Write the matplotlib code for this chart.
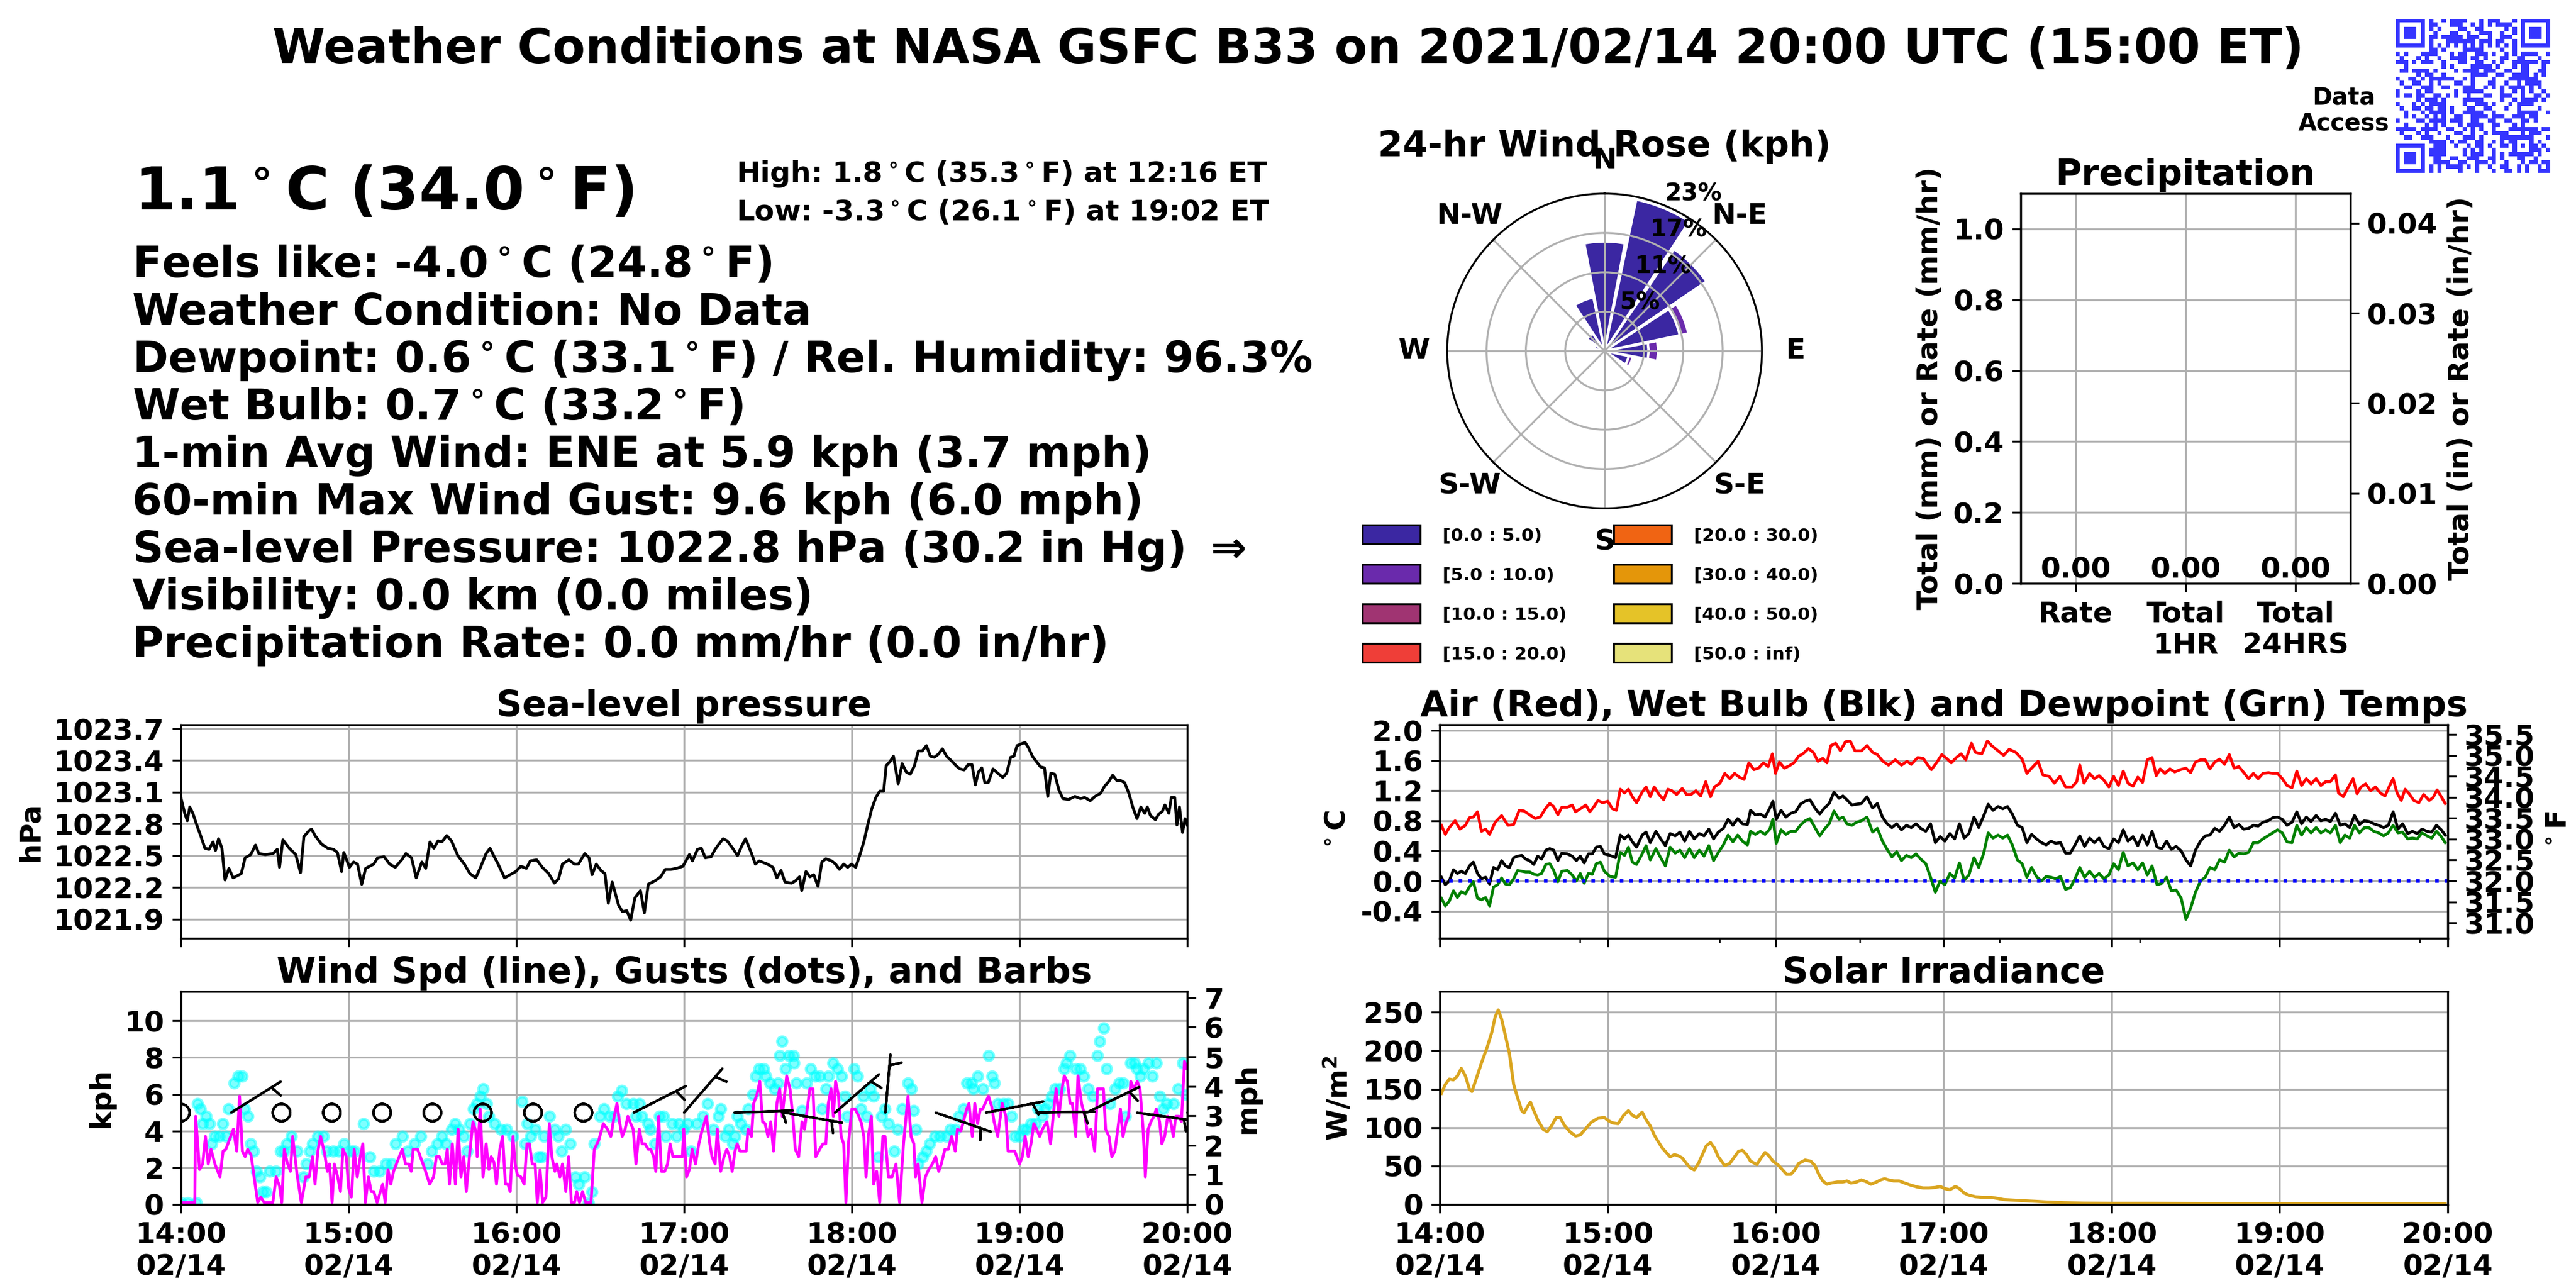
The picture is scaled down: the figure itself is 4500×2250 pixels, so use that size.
import datetime as dt
import numpy as np
import matplotlib
matplotlib.use("Agg")
import matplotlib.pyplot as plt
import matplotlib.dates as mdates
from matplotlib.colors import ListedColormap
from matplotlib.patches import Patch
from matplotlib.ticker import FormatStrFormatter

plt.rcParams['font.family'] = ['DejaVu Sans']
plt.rcParams['font.weight'] = 'bold'
plt.rcParams['axes.labelweight'] = 'bold'
plt.rcParams['axes.titleweight'] = 'bold'
plt.rcParams['mathtext.default'] = 'regular'

# ---------------- data (minutes after 14:00 UTC, value) ----------------
press = [(0, 1023.05), (1.4, 1022.90), (2.3, 1022.83), (3.2, 1022.96), (4.3, 1022.90), (5.7, 1022.79),
         (7.2, 1022.68), (8.6, 1022.57), (10.1, 1022.56), (11.5, 1022.63), (12.4, 1022.55), (13.5, 1022.66),
         (14.7, 1022.57), (15.8, 1022.27), (17.2, 1022.38), (18.7, 1022.29), (21.6, 1022.33), (23.0, 1022.48),
         (25.0, 1022.51), (26.7, 1022.60), (27.9, 1022.52), (30.2, 1022.51), (33.0, 1022.52), (34.5, 1022.56),
         (35.3, 1022.39), (36.5, 1022.65), (38.8, 1022.57), (41.1, 1022.51), (42.8, 1022.34), (44.0, 1022.68),
         (46.0, 1022.74), (46.8, 1022.75), (48.0, 1022.69), (50.3, 1022.61), (52.6, 1022.57), (54.6, 1022.56),
         (56.0, 1022.53), (57.5, 1022.35), (58.3, 1022.53), (60.3, 1022.39), (61.8, 1022.44), (63.2, 1022.42),
         (64.7, 1022.23), (66.1, 1022.38), (69.0, 1022.42), (70.4, 1022.48), (72.7, 1022.49), (74.7, 1022.42),
         (76.7, 1022.39), (79.0, 1022.46), (80.5, 1022.52), (82.5, 1022.48), (84.2, 1022.29), (86.2, 1022.44),
         (87.6, 1022.38), (89.1, 1022.63), (90.5, 1022.57), (92.0, 1022.64), (93.4, 1022.63), (95.1, 1022.69),
         (96.8, 1022.64), (99.1, 1022.50), (101.4, 1022.42), (103.4, 1022.33), (105.5, 1022.29), (107.2, 1022.39),
         (109.2, 1022.52), (110.6, 1022.57), (112.1, 1022.49), (113.5, 1022.42), (115.8, 1022.29), (117.8, 1022.32),
         (119.8, 1022.35), (121.6, 1022.40), (123.6, 1022.38), (125.0, 1022.45), (127.3, 1022.46), (129.3, 1022.39),
         (131.6, 1022.33), (133.6, 1022.24), (135.1, 1022.28), (136.5, 1022.42), (138.8, 1022.46), (140.8, 1022.42),
         (142.2, 1022.42), (144.5, 1022.52), (146.0, 1022.48), (147.1, 1022.32), (148.6, 1022.42), (150.3, 1022.36),
         (151.7, 1022.33), (152.9, 1022.05), (154.3, 1022.25), (156.6, 1022.03), (158.0, 1021.97), (159.5, 1021.98),
         (160.9, 1021.89), (162.4, 1022.10), (164.4, 1022.17), (165.8, 1021.96), (167.2, 1022.23), (169.5, 1022.26),
         (171.6, 1022.30), (173.3, 1022.37), (175.3, 1022.37), (177.3, 1022.38), (179.6, 1022.40), (181.9, 1022.51),
         (183.0, 1022.45), (184.8, 1022.56), (186.2, 1022.57), (187.6, 1022.48), (189.7, 1022.49), (191.1, 1022.56),
         (192.5, 1022.61), (194.0, 1022.66), (195.4, 1022.64), (197.4, 1022.57), (199.1, 1022.50), (200.6, 1022.59),
         (202.0, 1022.66), (204.0, 1022.53), (205.5, 1022.42), (206.9, 1022.45), (209.8, 1022.42), (211.8, 1022.39),
         (213.2, 1022.29), (214.7, 1022.36), (216.1, 1022.25), (218.4, 1022.24), (219.8, 1022.26), (221.3, 1022.30),
         (222.1, 1022.17), (223.6, 1022.35), (225.0, 1022.30), (226.4, 1022.32), (227.9, 1022.21), (229.3, 1022.44),
         (230.7, 1022.47), (232.8, 1022.45), (234.2, 1022.42), (235.6, 1022.37), (237.1, 1022.42), (238.5, 1022.39),
         (239.9, 1022.42), (241.4, 1022.39), (242.8, 1022.50), (244.3, 1022.63), (245.7, 1022.79), (247.1, 1022.94),
         (248.6, 1023.05), (250.0, 1023.11), (251.4, 1023.11), (252.3, 1023.35), (253.7, 1023.39), (254.9, 1023.44),
         (256.6, 1023.18), (258.0, 1023.37), (259.5, 1023.29), (260.9, 1023.27), (262.4, 1023.35), (263.8, 1023.49),
         (265.2, 1023.49), (266.7, 1023.54), (268.1, 1023.44), (269.5, 1023.43), (271.0, 1023.46), (272.4, 1023.51),
         (273.9, 1023.44), (275.9, 1023.39), (277.3, 1023.35), (278.7, 1023.32), (280.2, 1023.31), (281.6, 1023.36),
         (283.0, 1023.36), (284.2, 1023.17), (285.3, 1023.29), (286.5, 1023.33), (287.6, 1023.19), (288.8, 1023.19),
         (290.5, 1023.32), (292.2, 1023.28), (294.0, 1023.24), (295.4, 1023.28), (296.8, 1023.43), (298.0, 1023.44),
         (299.1, 1023.54), (300.9, 1023.56), (302.0, 1023.57), (303.2, 1023.52), (304.6, 1023.44), (306.0, 1023.39),
         (307.5, 1023.34), (308.9, 1023.33), (310.1, 1023.06), (311.2, 1023.28), (312.6, 1023.27), (314.1, 1023.12),
         (315.5, 1023.04), (317.5, 1023.03), (319.8, 1023.06), (321.8, 1023.04), (323.3, 1023.05), (325.3, 1023.02),
         (327.0, 1023.06), (329.0, 1023.09), (330.5, 1023.16), (331.9, 1023.20), (333.3, 1023.26), (334.8, 1023.21),
         (336.2, 1023.21), (337.6, 1023.19), (339.1, 1023.09), (340.5, 1022.96), (342.0, 1022.85), (343.4, 1022.96),
         (344.8, 1022.90), (345.7, 1022.96), (346.8, 1022.88), (348.6, 1022.84), (349.7, 1022.89), (351.1, 1022.92),
         (352.0, 1022.98), (353.4, 1022.90), (354.3, 1023.05), (355.5, 1023.05), (356.3, 1022.79), (357.2, 1022.96),
         (358.3, 1022.72), (359.2, 1022.85), (360.0, 1022.79)]

wind_kph = [(0, 0.1), (5.0, 0.1), (5.3, 4.8), (6.7, 1.9), (7.8, 2.2), (8.8, 3.7), (9.8, 2.2), (10.8, 3.0),
            (12.2, 2.2), (14.0, 1.5), (15.1, 2.9), (16.1, 3.0), (18.8, 4.1), (20.0, 2.9), (21.0, 5.9), (22.0, 2.9),
            (23.0, 2.6), (23.9, 3.0), (25.1, 2.7), (26.3, 1.4), (27.5, 0.1), (28.6, 0.4), (29.8, 0.1), (32.9, 0.1),
            (34.1, 1.5), (35.3, 1.0), (36.1, 0.1), (37.0, 3.0), (38.0, 2.3), (39.2, 1.8), (40.0, 3.7), (41.6, 1.6),
            (43.1, 0.1), (44.7, 1.5), (45.9, 1.5), (47.1, 2.6), (48.0, 1.1), (49.0, 2.9), (50.0, 3.7), (51.4, 2.8),
            (52.4, 1.8), (53.2, 2.2), (54.1, 0.1), (54.9, 2.2), (56.1, 1.5), (57.1, 0.7), (58.0, 3.0), (59.2, 2.6),
            (60.0, 0.9), (61.0, 0.4), (62.0, 3.0), (63.1, 1.5), (64.2, 2.6), (65.1, 3.3), (66.0, 0.1), (67.1, 1.5),
            (68.1, 0.7), (69.0, 0.7), (70.2, 0.1), (72.2, 1.1), (73.1, 0.1), (74.1, 1.9), (75.1, 1.1), (76.1, 1.8),
            (77.6, 2.4), (79.2, 3.0), (80.4, 2.2), (81.6, 2.2), (82.4, 1.8), (83.1, 3.0), (84.7, 3.0), (87.1, 2.0),
            (89.0, 1.1), (90.4, 1.5), (91.4, 2.6), (92.5, 2.6), (93.5, 2.2), (94.5, 2.2), (95.3, 3.0), (96.1, 1.1),
            (97.1, 3.3), (98.2, 1.1), (99.2, 4.1), (100.2, 1.5), (101.2, 2.6), (102.1, 0.7), (103.4, 2.9), (104.5, 4.5),
            (105.5, 4.0), (106.0, 2.6), (107.1, 5.2), (108.1, 1.5), (109.2, 3.3), (110.2, 1.9), (111.0, 2.6),
            (112.0, 2.3), (112.9, 1.1), (114.1, 3.0), (115.1, 3.7), (116.1, 1.1), (117.0, 1.1), (117.8, 0.7),
            (118.8, 3.7), (119.6, 2.2), (120.4, 1.6), (121.6, 1.5), (122.8, 1.1), (123.8, 3.3), (124.7, 3.3),
            (125.7, 2.2), (126.7, 2.2), (127.5, 0.1), (128.5, 1.9), (129.4, 0.1), (130.6, 0.4), (131.8, 4.4),
            (132.7, 2.6), (133.8, 1.8), (134.5, 2.2), (135.6, 1.5), (136.5, 2.2), (137.7, 0.7), (138.7, 2.6),
            (139.7, 0.1), (140.8, 0.1), (141.6, 0.7), (142.6, 0.1), (143.7, 0.7), (144.8, 0.1), (146.7, 0.1),
            (147.9, 3.0), (149.5, 3.5), (151.1, 4.4), (152.6, 4.1), (153.8, 3.7), (155.0, 4.8), (156.0, 5.5),
            (156.9, 4.5), (157.9, 3.7), (158.9, 4.1), (159.9, 4.8), (160.9, 4.4), (161.8, 4.1), (162.8, 2.2),
            (164.0, 4.1), (165.0, 3.3), (166.0, 3.3), (167.2, 3.0), (168.1, 3.0), (169.1, 2.6), (169.9, 1.8),
            (170.9, 4.8), (171.9, 1.8), (173.1, 1.8), (174.1, 2.2), (175.0, 3.3), (176.0, 2.6), (178.2, 2.6),
            (179.4, 2.6), (179.9, 4.1), (180.9, 1.5), (181.9, 1.9), (182.9, 3.0), (184.1, 2.2), (185.3, 3.3),
            (186.4, 4.0), (188.0, 4.8), (189.2, 3.3), (190.0, 2.6), (191.1, 2.2), (191.9, 4.1), (193.1, 1.8),
            (194.3, 2.6), (195.3, 3.0), (196.3, 2.6), (197.2, 1.8), (198.2, 2.9), (199.0, 3.3), (200.0, 2.9),
            (202.2, 2.9), (202.9, 4.1), (204.1, 3.7), (204.9, 5.5), (206.1, 6.0), (207.1, 6.7), (208.1, 4.5),
            (209.0, 4.4), (210.0, 3.7), (211.0, 4.5), (212.0, 2.9), (213.2, 5.5), (214.2, 6.3), (215.1, 4.8),
            (216.7, 7.0), (217.9, 6.3), (218.9, 4.8), (219.8, 3.0), (221.0, 2.6), (222.2, 4.5), (223.1, 4.1),
            (225.0, 6.3), (226.1, 6.3), (227.1, 2.6), (228.5, 3.0), (229.7, 3.3), (230.7, 3.3), (231.6, 5.5),
            (232.6, 6.3), (233.4, 4.8), (234.2, 6.7), (235.2, 6.0), (236.2, 3.7), (237.1, 3.3), (237.9, 0.1),
            (238.8, 3.3), (240.0, 5.2), (241.2, 5.2), (242.5, 4.8), (243.5, 4.4), (244.3, 3.7), (245.1, 1.5),
            (245.9, 3.7), (247.0, 4.8), (247.8, 1.1), (248.9, 1.8), (250.0, 0.1), (251.1, 3.7), (251.9, 3.7),
            (253.1, 1.5), (254.4, 1.5), (255.8, 2.2), (257.1, 0.1), (258.5, 3.3), (260.1, 5.9), (261.2, 3.7),
            (262.2, 3.3), (262.8, 1.5), (263.7, 2.2), (265.1, 0.1), (266.3, 1.5), (267.5, 1.9), (268.8, 2.2),
            (270.0, 2.6), (271.1, 1.8), (272.0, 2.2), (273.3, 3.0), (274.5, 3.0), (275.7, 3.7), (277.0, 2.9),
            (277.8, 4.1), (279.0, 4.0), (279.9, 4.5), (281.1, 5.2), (281.9, 5.5), (283.1, 3.7), (284.0, 5.5),
            (285.0, 4.4), (286.0, 5.2), (286.8, 5.2), (288.9, 5.9), (290.1, 5.3), (290.9, 4.5), (292.2, 3.7),
            (293.8, 5.5), (295.1, 4.8), (295.9, 2.9), (298.3, 2.9), (300.0, 2.2), (301.0, 2.6), (302.0, 3.7),
            (303.1, 2.6), (304.1, 3.3), (305.1, 4.4), (306.1, 4.1), (307.2, 3.7), (308.2, 4.1), (309.8, 4.5),
            (311.1, 3.3), (312.3, 5.2), (313.1, 6.3), (314.1, 4.8), (315.2, 6.3), (316.0, 7.0), (317.1, 6.7),
            (318.1, 5.5), (318.9, 5.5), (320.1, 3.7), (320.9, 7.0), (322.2, 5.5), (323.4, 4.8), (324.5, 3.7),
            (325.5, 4.1), (326.9, 2.9), (327.9, 6.3), (330.0, 6.3), (330.8, 4.1), (332.0, 3.7), (333.0, 2.6),
            (334.1, 2.9), (336.1, 5.2), (337.0, 3.7), (338.2, 4.5), (339.0, 4.8), (339.8, 6.7), (340.9, 6.3),
            (342.1, 6.7), (343.1, 6.3), (344.2, 4.1), (345.0, 1.5), (346.0, 4.1), (347.0, 4.5), (348.1, 4.8),
            (348.9, 5.2), (350.1, 4.5), (350.9, 3.3), (351.9, 3.7), (353.0, 4.8), (354.1, 4.5), (355.0, 3.7),
            (355.9, 4.8), (357.1, 4.8), (357.9, 4.5), (359.0, 7.8), (359.8, 7.4)]

gust_kph = [(0, 0.1), (2.5, 0.1), (5.5, 0.1), (5.9, 5.5), (6.9, 5.2), (7.8, 4.4), (9.0, 4.8), (10.2, 4.4),
            (11.1, 3.3), (12.2, 3.7), (13.7, 3.7), (14.9, 4.4), (16.1, 3.7), (17.1, 5.2), (19.1, 6.6), (20.4, 7.0),
            (22.0, 7.0), (22.7, 5.2), (23.9, 4.8), (25.1, 3.3), (26.1, 2.9), (27.1, 1.8), (28.2, 1.5), (29.2, 0.7),
            (30.6, 0.7), (31.8, 1.8), (34.1, 1.8), (35.7, 2.9), (36.9, 2.9), (38.0, 3.3), (39.6, 3.7), (41.6, 2.9),
            (43.8, 1.5), (44.9, 2.2), (46.1, 2.9), (47.2, 3.3), (49.0, 3.7), (51.0, 3.7), (52.2, 2.9), (54.5, 2.9),
            (56.5, 2.9), (58.4, 3.3), (60.8, 2.9), (62.0, 2.9), (65.3, 4.4), (67.5, 2.6), (69.0, 1.8), (71.0, 1.8),
            (73.3, 2.2), (75.3, 2.2), (76.9, 3.3), (79.2, 3.7), (81.2, 2.9), (83.5, 3.3), (85.9, 3.7), (88.2, 2.2),
            (89.8, 2.9), (91.8, 3.3), (93.3, 3.7), (94.9, 3.3), (96.9, 4.1), (98.0, 4.4), (99.6, 4.1), (101.2, 3.7),
            (102.4, 2.9), (103.4, 4.4), (104.7, 5.2), (105.9, 5.5), (107.1, 5.9), (108.1, 6.3), (109.4, 5.5),
            (110.2, 4.8), (112.2, 4.4), (114.5, 4.1), (116.5, 4.1), (118.8, 3.7), (122.0, 5.6), (123.1, 3.3),
            (123.9, 4.4), (125.1, 3.7), (126.7, 4.1), (127.9, 2.6), (129.0, 2.6), (129.8, 3.7), (131.8, 4.8),
            (133.8, 4.1), (134.9, 3.7), (136.1, 2.9), (137.7, 4.1), (139.3, 3.3), (141.2, 1.5), (142.4, 1.1),
            (144.4, 1.5), (145.9, 0.1), (147.1, 0.7), (147.9, 3.3), (149.9, 4.8), (151.4, 5.2), (153.4, 4.8),
            (155.0, 4.8), (156.2, 5.9), (157.7, 6.2), (159.3, 5.5), (161.7, 5.5), (162.8, 4.8), (164.0, 5.5),
            (164.8, 4.8), (167.2, 4.4), (168.0, 4.1), (169.5, 3.3), (171.1, 4.8), (172.7, 4.8), (173.5, 3.7),
            (175.8, 4.4), (177.4, 3.7), (178.2, 4.4), (179.7, 4.1), (181.3, 4.4), (182.5, 2.9), (184.5, 4.4),
            (186.8, 4.8), (188.4, 5.5), (190.4, 4.1), (192.3, 4.8), (193.1, 5.2), (194.7, 3.7), (195.9, 4.1),
            (197.4, 3.3), (198.2, 3.7), (199.0, 4.8), (200.2, 4.4), (202.2, 4.1), (202.9, 5.2), (204.5, 6.0),
            (205.7, 7.0), (206.9, 7.4), (208.4, 7.4), (209.2, 7.0), (210.8, 6.6), (212.4, 6.3), (213.6, 6.6),
            (214.3, 8.1), (215.1, 8.9), (216.3, 7.4), (217.5, 8.1), (219.1, 8.1), (219.4, 7.7), (220.2, 6.6),
            (222.2, 5.1), (223.8, 6.6), (225.3, 7.4), (226.9, 7.0), (228.5, 7.0), (229.3, 5.2), (230.8, 6.3),
            (231.6, 7.0), (233.2, 7.7), (234.8, 7.4), (236.4, 7.0), (237.5, 5.9), (238.4, 4.8), (240.8, 7.4),
            (242.1, 7.0), (243.3, 5.2), (244.1, 5.9), (245.3, 4.8), (246.6, 6.3), (247.8, 5.9), (249.4, 2.6),
            (250.7, 4.8), (251.9, 5.2), (253.1, 4.4), (255.2, 2.9), (256.4, 4.1), (258.1, 5.2), (260.1, 6.6),
            (261.2, 6.3), (262.2, 5.1), (263.0, 4.1), (263.8, 2.2), (265.3, 2.6), (266.7, 2.9), (267.9, 3.3),
            (269.6, 3.7), (271.6, 3.7), (273.7, 3.7), (275.3, 4.1), (277.0, 4.1), (278.2, 4.8), (279.9, 5.2),
            (281.1, 6.6), (282.7, 6.6), (283.5, 6.3), (285.0, 7.0), (286.8, 6.3), (288.9, 8.1), (290.1, 7.0),
            (290.9, 6.6), (292.2, 5.5), (294.2, 5.5), (295.9, 5.5), (297.1, 4.8), (298.3, 3.7), (300.0, 3.7),
            (301.2, 4.1), (302.4, 4.1), (304.1, 4.4), (305.7, 4.4), (306.6, 5.2), (308.2, 4.8), (309.0, 5.2),
            (310.3, 5.5), (311.5, 5.9), (312.7, 6.3), (314.4, 6.3), (316.0, 7.4), (316.8, 7.7), (318.1, 8.1),
            (320.1, 7.4), (321.8, 7.4), (323.0, 7.0), (324.6, 6.3), (326.3, 5.9), (327.9, 8.1), (328.7, 8.9),
            (330.0, 9.6), (331.2, 7.4), (332.4, 5.5), (334.1, 6.3), (335.7, 6.6), (337.0, 6.6), (337.8, 4.8),
            (339.8, 7.7), (341.1, 7.7), (341.9, 7.4), (343.1, 7.0), (344.4, 7.4), (346.0, 7.7), (347.6, 7.0),
            (348.9, 7.7), (350.1, 5.9), (351.3, 5.2), (352.6, 5.5), (355.0, 5.5), (356.7, 6.3), (358.3, 7.7),
            (359.6, 6.0)]

# barbs every 18 min: direction wind comes from (deg), speed (kph)
barb_min = [0, 18, 36, 54, 72, 90, 108, 126, 144, 162, 180, 198, 216, 234, 252, 270, 288, 306, 324, 342, 360]
barb_dir = [0, 58, 0, 0, 0, 0, 0, 0, 0, 63, 41, 88, 100, 49, 5, 109, 79, 89, 64, 98, 95]
barb_spd = [0, 5, 0, 0, 0, 0, 0, 0, 0, 5, 5, 5, 5, 5, 5, 5, 5, 5, 5, 5, 5]

air_c = [(0.6, 0.74), (2.0, 0.62), (3.4, 0.71), (5.5, 0.80), (7.2, 0.69), (9.2, 0.74), (10.6, 0.84), (12.0, 0.85),
         (13.5, 0.92), (14.9, 0.66), (16.4, 0.69), (17.8, 0.62), (19.8, 0.78), (22.1, 0.87), (24.4, 0.74),
         (26.4, 0.75), (28.4, 0.94), (30.1, 0.93), (32.1, 0.88), (34.1, 0.83), (35.9, 0.85), (37.9, 0.97),
         (39.3, 1.03), (40.7, 0.99), (42.2, 0.88), (43.6, 0.98), (45.6, 0.98), (47.3, 1.01), (48.5, 0.92),
         (50.2, 0.96), (52.2, 1.01), (53.6, 0.92), (55.1, 0.99), (56.5, 1.07), (58.2, 1.04), (60.0, 1.06),
         (61.7, 0.96), (63.1, 0.94), (64.5, 1.22), (66.0, 1.17), (67.4, 1.22), (68.8, 1.12), (70.3, 1.04),
         (72.3, 1.18), (73.7, 1.25), (75.2, 1.12), (76.6, 1.25), (78.3, 1.15), (80.0, 1.08), (81.5, 1.22),
         (82.9, 1.20), (84.6, 1.15), (86.6, 1.23), (88.1, 1.15), (89.8, 1.15), (91.5, 1.20), (93.2, 1.13),
         (95.0, 1.32), (96.7, 1.12), (98.1, 1.25), (100.1, 1.30), (101.8, 1.43), (103.6, 1.36), (105.3, 1.43),
         (107.0, 1.38), (108.7, 1.35), (110.4, 1.57), (112.2, 1.48), (113.9, 1.50), (115.6, 1.57), (117.3, 1.52),
         (118.8, 1.69), (119.9, 1.43), (121.3, 1.58), (123.1, 1.50), (124.8, 1.53), (126.5, 1.57), (128.2, 1.66),
         (129.7, 1.69), (131.7, 1.76), (133.4, 1.71), (135.1, 1.59), (136.8, 1.63), (138.3, 1.57), (139.7, 1.80),
         (141.4, 1.83), (143.1, 1.73), (144.9, 1.85), (146.6, 1.86), (148.3, 1.73), (150.6, 1.73), (152.6, 1.80),
         (154.6, 1.71), (156.3, 1.68), (158.3, 1.59), (160.3, 1.54), (162.7, 1.61), (164.9, 1.54), (166.9, 1.59),
         (168.4, 1.55), (170.7, 1.64), (172.7, 1.63), (174.1, 1.55), (175.6, 1.48), (177.6, 1.58), (179.3, 1.68),
         (181.0, 1.63), (182.7, 1.57), (184.5, 1.64), (186.2, 1.69), (187.9, 1.61), (189.9, 1.83), (191.3, 1.71),
         (193.6, 1.69), (195.6, 1.86), (197.1, 1.80), (199.4, 1.73), (201.4, 1.67), (203.4, 1.75), (205.7, 1.71),
         (208.0, 1.62), (209.7, 1.43), (211.4, 1.50), (213.7, 1.59), (215.4, 1.41), (217.7, 1.39), (219.5, 1.30),
         (221.5, 1.39), (223.5, 1.25), (225.8, 1.25), (227.5, 1.32), (228.6, 1.54), (230.1, 1.30), (232.1, 1.43),
         (233.8, 1.36), (235.5, 1.40), (237.2, 1.34), (239.0, 1.25), (240.7, 1.39), (242.4, 1.27), (244.1, 1.46),
         (245.8, 1.30), (247.6, 1.26), (249.3, 1.38), (251.0, 1.31), (252.7, 1.61), (254.4, 1.64), (255.9, 1.40),
         (257.3, 1.49), (259.0, 1.43), (260.8, 1.49), (262.5, 1.45), (264.5, 1.48), (266.5, 1.50), (268.2, 1.44),
         (269.9, 1.58), (271.7, 1.61), (273.4, 1.61), (275.1, 1.49), (276.8, 1.58), (278.5, 1.62), (280.3, 1.55),
         (282.0, 1.68), (283.7, 1.50), (285.4, 1.52), (287.4, 1.43), (288.9, 1.36), (290.6, 1.43), (292.3, 1.36),
         (294.0, 1.43), (296.0, 1.44), (297.5, 1.43), (299.2, 1.43), (300.9, 1.36), (302.6, 1.27), (304.4, 1.24),
         (306.1, 1.46), (307.8, 1.27), (309.5, 1.36), (311.2, 1.29), (313.0, 1.36), (314.7, 1.27), (316.4, 1.32),
         (318.1, 1.32), (319.9, 1.41), (321.0, 1.17), (322.7, 1.12), (324.4, 1.24), (326.2, 1.36), (327.6, 1.16),
         (329.0, 1.25), (330.7, 1.29), (332.5, 1.20), (334.2, 1.25), (335.9, 1.17), (337.6, 1.13), (339.3, 1.27),
         (340.5, 1.36), (341.9, 1.17), (343.4, 1.07), (344.8, 1.22), (346.2, 1.16), (347.9, 1.07), (349.7, 1.04),
         (351.4, 1.15), (353.4, 1.07), (354.8, 1.11), (356.2, 1.21), (357.7, 1.12), (359.1, 1.03)]

wetbulb_c = [(0.6, 0.05), (2.0, -0.05), (3.4, 0.00), (4.9, 0.15), (6.3, 0.10), (7.7, 0.13), (9.2, 0.10),
             (10.6, 0.20), (12.0, 0.25), (13.5, 0.10), (14.9, 0.03), (16.4, 0.05), (17.8, -0.04), (19.2, 0.18),
             (20.7, 0.15), (22.1, 0.27), (23.5, 0.20), (24.9, 0.18), (26.4, 0.31), (27.8, 0.33), (29.3, 0.34),
             (30.7, 0.29), (32.1, 0.27), (33.6, 0.22), (35.0, 0.33), (36.4, 0.29), (37.9, 0.41), (39.3, 0.43),
             (40.7, 0.41), (42.2, 0.27), (43.6, 0.37), (45.6, 0.36), (47.3, 0.33), (48.8, 0.27), (50.2, 0.33),
             (51.6, 0.24), (53.1, 0.36), (54.5, 0.36), (55.9, 0.45), (57.4, 0.46), (58.8, 0.36), (60.8, 0.34),
             (62.8, 0.31), (64.5, 0.61), (66.0, 0.56), (67.4, 0.61), (68.8, 0.52), (70.3, 0.45), (72.3, 0.61),
             (73.7, 0.65), (75.2, 0.51), (77.2, 0.66), (78.9, 0.56), (80.6, 0.47), (82.3, 0.63), (84.1, 0.60),
             (85.8, 0.65), (87.5, 0.53), (89.2, 0.66), (90.9, 0.56), (92.7, 0.63), (94.4, 0.60), (96.1, 0.69),
             (97.8, 0.56), (99.5, 0.65), (101.3, 0.70), (103.0, 0.82), (104.7, 0.74), (106.4, 0.83), (108.1, 0.76),
             (109.9, 0.75), (111.0, 0.94), (112.7, 0.88), (114.5, 0.89), (116.2, 0.85), (117.9, 0.97), (119.0, 1.06),
             (120.2, 0.82), (121.9, 0.94), (123.6, 0.85), (125.4, 0.90), (127.1, 0.92), (128.8, 1.02), (130.5, 1.06),
             (132.2, 1.08), (134.0, 0.97), (135.7, 0.89), (137.4, 0.97), (139.1, 1.03), (140.8, 1.18), (142.6, 1.10),
             (144.0, 1.13), (145.4, 1.08), (147.2, 1.01), (148.9, 1.02), (150.6, 1.03), (152.6, 1.12), (154.6, 0.97),
             (156.3, 1.03), (158.1, 0.85), (159.8, 0.76), (161.5, 0.71), (163.2, 0.76), (164.9, 0.68), (166.7, 0.74),
             (168.4, 0.71), (170.1, 0.76), (171.8, 0.70), (173.6, 0.66), (175.3, 0.76), (177.0, 0.51), (178.7, 0.59),
             (180.4, 0.53), (182.2, 0.63), (183.9, 0.56), (185.6, 0.76), (187.3, 0.57), (189.0, 0.63), (190.8, 0.85),
             (192.5, 0.71), (194.2, 0.86), (195.9, 1.02), (197.6, 0.94), (199.4, 0.99), (201.1, 0.96), (202.8, 0.99),
             (204.5, 0.89), (206.3, 0.74), (208.0, 0.71), (209.7, 0.51), (211.4, 0.62), (213.1, 0.56), (214.9, 0.51),
             (216.6, 0.48), (218.3, 0.53), (220.0, 0.50), (221.7, 0.51), (223.5, 0.37), (225.2, 0.37), (226.9, 0.48),
             (228.6, 0.60), (230.3, 0.46), (232.1, 0.57), (233.8, 0.51), (235.5, 0.57), (237.2, 0.46), (239.0, 0.43),
             (240.7, 0.56), (242.4, 0.51), (244.1, 0.68), (245.8, 0.53), (247.6, 0.59), (249.3, 0.47), (251.0, 0.61),
             (252.7, 0.48), (254.4, 0.66), (256.2, 0.45), (257.9, 0.43), (259.6, 0.53), (261.3, 0.42), (263.0, 0.46),
             (264.8, 0.40), (266.5, 0.28), (268.2, 0.20), (269.9, 0.41), (271.7, 0.53), (273.4, 0.60), (275.1, 0.61),
             (276.8, 0.70), (278.5, 0.66), (280.3, 0.74), (282.0, 0.85), (283.7, 0.71), (285.4, 0.75), (287.1, 0.69),
             (288.9, 0.70), (290.6, 0.74), (292.3, 0.73), (294.0, 0.78), (295.8, 0.80), (297.5, 0.84), (299.2, 0.85),
             (300.9, 0.82), (302.6, 0.74), (304.4, 0.78), (306.1, 0.92), (307.8, 0.76), (309.5, 0.85), (311.2, 0.79),
             (313.0, 0.87), (314.7, 0.80), (316.4, 0.82), (318.1, 0.79), (319.9, 0.90), (321.6, 0.74), (323.3, 0.76),
             (325.0, 0.71), (326.7, 0.87), (328.5, 0.75), (330.2, 0.80), (331.9, 0.79), (333.6, 0.76), (335.3, 0.74),
             (337.1, 0.71), (338.8, 0.74), (340.5, 0.92), (342.2, 0.69), (343.9, 0.76), (345.7, 0.63), (347.4, 0.66),
             (349.1, 0.63), (350.8, 0.69), (352.6, 0.66), (354.3, 0.65), (356.0, 0.74), (357.7, 0.68), (359.1, 0.61)]

dewpoint_c = [(0.6, -0.23), (2.0, -0.33), (3.4, -0.27), (4.9, -0.13), (6.3, -0.22), (7.7, -0.14), (9.2, -0.17),
              (10.6, -0.08), (12.0, -0.01), (13.5, -0.23), (14.9, -0.25), (16.4, -0.22), (17.8, -0.33), (19.2, -0.08),
              (20.7, -0.05), (22.1, 0.04), (23.5, -0.04), (24.9, -0.05), (26.4, 0.03), (27.8, 0.14), (29.3, 0.13),
              (30.7, 0.12), (32.1, 0.12), (33.6, 0.09), (35.0, 0.08), (36.4, 0.10), (37.9, 0.22), (39.3, 0.23),
              (40.7, 0.14), (42.2, -0.01), (43.6, 0.13), (45.6, 0.14), (47.3, 0.08), (48.8, 0.00), (50.2, 0.10),
              (51.6, -0.03), (53.1, 0.10), (54.5, 0.09), (55.9, 0.23), (57.4, 0.25), (58.8, 0.13), (60.8, 0.06),
              (62.8, 0.05), (64.5, 0.38), (66.0, 0.34), (67.4, 0.45), (68.8, 0.25), (70.3, 0.22), (72.3, 0.36),
              (73.7, 0.47), (75.2, 0.28), (77.2, 0.43), (78.9, 0.31), (80.6, 0.20), (82.3, 0.45), (84.1, 0.37),
              (85.8, 0.41), (87.5, 0.31), (89.2, 0.43), (90.9, 0.31), (92.7, 0.41), (94.4, 0.33), (96.1, 0.47),
              (97.8, 0.27), (99.5, 0.38), (101.3, 0.48), (103.0, 0.61), (104.7, 0.52), (106.4, 0.61), (108.1, 0.53),
              (109.9, 0.48), (111.0, 0.66), (112.7, 0.62), (114.5, 0.66), (116.2, 0.62), (117.9, 0.69), (119.0, 0.82),
              (120.2, 0.50), (121.9, 0.68), (123.6, 0.62), (125.4, 0.66), (127.1, 0.66), (128.8, 0.74), (130.5, 0.80),
              (132.2, 0.83), (134.0, 0.71), (135.7, 0.60), (137.4, 0.69), (139.1, 0.76), (140.8, 0.93), (142.6, 0.82),
              (144.0, 0.85), (145.4, 0.76), (147.2, 0.74), (148.9, 0.78), (150.6, 0.80), (152.6, 0.85), (154.6, 0.65),
              (156.3, 0.70), (158.1, 0.53), (159.8, 0.42), (161.5, 0.32), (163.2, 0.39), (164.9, 0.27), (166.7, 0.34),
              (168.4, 0.31), (170.1, 0.36), (171.8, 0.29), (173.6, 0.23), (175.3, 0.05), (177.0, -0.15), (178.7, 0.00),
              (180.4, -0.05), (182.2, 0.10), (183.9, 0.04), (185.6, 0.24), (187.3, 0.01), (189.0, 0.08), (190.8, 0.31),
              (192.5, 0.18), (194.2, 0.36), (195.9, 0.64), (197.6, 0.57), (199.4, 0.61), (201.1, 0.57), (202.8, 0.61),
              (204.5, 0.48), (206.3, 0.28), (208.0, 0.23), (209.7, 0.05), (211.4, 0.18), (213.1, 0.06), (214.9, 0.00),
              (216.6, 0.06), (218.3, 0.05), (220.0, 0.03), (221.7, 0.06), (223.5, -0.11), (225.2, -0.09), (226.9, 0.03),
              (228.6, 0.18), (230.3, 0.05), (232.1, 0.13), (233.8, 0.05), (235.5, 0.10), (237.2, 0.03), (239.0, 0.08),
              (240.7, 0.23), (242.4, 0.15), (244.1, 0.38), (245.8, 0.20), (247.6, 0.24), (249.3, 0.15), (251.0, 0.24),
              (252.7, 0.08), (254.4, 0.20), (256.2, -0.05), (257.9, -0.03), (259.6, 0.05), (261.3, -0.13),
              (263.0, -0.12), (264.8, -0.23), (266.5, -0.51), (268.2, -0.36), (269.9, -0.15), (271.7, 0.00),
              (273.4, 0.05), (275.1, 0.18), (276.8, 0.15), (278.5, 0.28), (280.3, 0.25), (282.0, 0.41), (283.7, 0.32),
              (285.4, 0.37), (287.1, 0.36), (288.9, 0.38), (290.6, 0.51), (292.3, 0.51), (294.0, 0.56), (295.8, 0.60),
              (297.5, 0.64), (299.2, 0.68), (300.9, 0.64), (302.6, 0.52), (304.4, 0.51), (306.1, 0.74), (307.8, 0.61),
              (309.5, 0.71), (311.2, 0.64), (313.0, 0.71), (314.7, 0.64), (316.4, 0.68), (318.1, 0.64), (319.9, 0.74),
              (321.6, 0.51), (323.3, 0.61), (325.0, 0.57), (326.7, 0.74), (328.5, 0.64), (330.2, 0.71), (331.9, 0.71),
              (333.6, 0.66), (335.3, 0.64), (337.1, 0.60), (338.8, 0.64), (340.5, 0.74), (342.2, 0.64), (343.9, 0.65),
              (345.7, 0.56), (347.4, 0.57), (349.1, 0.56), (350.8, 0.64), (352.6, 0.60), (354.3, 0.57), (356.0, 0.66),
              (357.7, 0.59), (359.1, 0.51)]

solar_wm2 = [(0.6, 144.5), (2.0, 156), (3.4, 163), (4.9, 162), (6.3, 167), (7.7, 177), (9.2, 167), (10.6, 150),
             (11.5, 147), (12.9, 162), (14.9, 184), (16.9, 204), (18.6, 224), (19.8, 244), (20.9, 253), (22.1, 241),
             (23.5, 219), (24.9, 196), (26.4, 156), (27.8, 139), (29.3, 122), (30.1, 119), (31.3, 127), (32.4, 133),
             (33.6, 122), (35.0, 110), (37.0, 97.5), (38.4, 94.6), (39.9, 102), (41.6, 113), (43.0, 113), (44.5, 103),
             (46.5, 94.6), (48.5, 88.9), (50.2, 90.4), (52.2, 98.9), (54.2, 107), (56.5, 112), (58.8, 113),
             (60.2, 109), (61.7, 106), (63.7, 105), (65.7, 116), (67.4, 122), (68.8, 116), (70.3, 113), (72.3, 120),
             (73.7, 110), (75.2, 102), (76.6, 90.4), (78.0, 81.8), (79.5, 73.3), (80.9, 67.6), (82.3, 61.9),
             (83.8, 64.7), (85.2, 63.3), (86.6, 60.4), (88.1, 53.3), (89.5, 47.6), (90.9, 44.8), (92.4, 53.3),
             (93.8, 64.7), (95.2, 76.1), (96.7, 80.4), (98.1, 73.3), (99.5, 61.9), (101.8, 50.5), (103.6, 53.3),
             (105.3, 61.9), (106.7, 69.0), (108.1, 70.4), (109.6, 64.7), (111.0, 56.2), (113.3, 51.9), (114.5, 59.0),
             (116.2, 67.6), (117.6, 63.3), (119.0, 56.2), (121.1, 50.5), (122.5, 44.8), (123.9, 39.1), (125.4, 39.1),
             (126.8, 44.8), (128.2, 53.3), (130.5, 57.6), (132.5, 56.2), (134.0, 50.5), (135.4, 39.1), (136.8, 30.5),
             (138.3, 26.2), (139.7, 27.7), (142.0, 29.1), (144.0, 29.1), (145.4, 30.5), (146.9, 27.7), (148.9, 29.1),
             (150.6, 31.9), (152.6, 29.1), (154.0, 26.2), (156.0, 29.1), (157.5, 31.9), (158.9, 33.4), (160.3, 31.9),
             (162.1, 30.5), (164.1, 30.5), (166.1, 27.7), (168.4, 24.8), (170.7, 22.5), (172.7, 21.4), (174.7, 21.4),
             (177.0, 22.0), (178.7, 23.4), (180.4, 20.5), (182.2, 19.1), (184.2, 23.4), (185.6, 20.5), (187.3, 14.8),
             (189.0, 12.0), (191.3, 10.0), (194.2, 9.1), (197.1, 9.1), (199.4, 7.7), (201.4, 6.3), (204.2, 5.7),
             (208.6, 4.8), (212.9, 4.0), (217.2, 3.1), (222.9, 2.3), (230.1, 1.7), (240.1, 1.4), (254.4, 1.4),
             (271.7, 1.1), (300.3, 1.1), (329.0, 0.9), (359.1, 0.9)]

rose_dirs = ['N', 'NNE', 'NE', 'ENE', 'E', 'ESE', 'SE', 'SSE', 'S', 'SSW', 'SW', 'WSW', 'W', 'WNW', 'NW', 'NNW']
rose_0_5 = [16.0, 22.6, 18.0, 11.2, 6.4, 3.6, 0, 0, 0, 0, 0, 0, 0, 1.5, 3.1, 8.0]
rose_5_10 = [0, 0, 0, 1.3, 1.4, 0.6, 0, 0, 0, 0, 0, 0, 0, 0, 0, 0]
rose_bins = ['[0.0 : 5.0)', '[5.0 : 10.0)', '[10.0 : 15.0)', '[15.0 : 20.0)',
             '[20.0 : 30.0)', '[30.0 : 40.0)', '[40.0 : 50.0)', '[50.0 : inf)']
rose_colors = ['#3b27a2', '#6a2aac', '#a03472', '#ef3e38', '#f06413', '#e4960a', '#e5c328', '#e6e27a']
rose_rmax = 23.0

precip_cats = ['Rate', 'Total\n1HR', 'Total\n24HRS']
precip_mm = [0.0, 0.0, 0.0]

title = 'Weather Conditions at NASA GSFC B33 on 2021/02/14 20:00 UTC (15:00 ET)'
deg = '$^\\circ$'
now_temp = '1.1' + deg + 'C (34.0' + deg + 'F)'
high_low = ['High: 1.8' + deg + 'C (35.3' + deg + 'F) at 12:16 ET',
            'Low: -3.3' + deg + 'C (26.1' + deg + 'F) at 19:02 ET']
info_lines = ['Feels like: -4.0' + deg + 'C (24.8' + deg + 'F)',
              'Weather Condition: No Data',
              'Dewpoint: 0.6' + deg + 'C (33.1' + deg + 'F) / Rel. Humidity: 96.3%',
              'Wet Bulb: 0.7' + deg + 'C (33.2' + deg + 'F)',
              '1-min Avg Wind: ENE at 5.9 kph (3.7 mph)',
              '60-min Max Wind Gust: 9.6 kph (6.0 mph)',
              'Sea-level Pressure: 1022.8 hPa (30.2 in Hg) $\\Rightarrow$',
              'Visibility: 0.0 km (0.0 miles)',
              'Precipitation Rate: 0.0 mm/hr (0.0 in/hr)']

start = dt.datetime(2021, 2, 14, 14, 0)


def to_time(mins):
    return [start + dt.timedelta(minutes=float(m)) for m in mins]


def split(pairs):
    t, v = zip(*pairs)
    return to_time(t), np.array(v)


def qr_matrix(text, n=37):
    m = np.zeros((n, n), dtype=int)
    used = np.zeros((n, n), dtype=bool)
    for r0, c0 in [(0, 0), (0, n - 7), (n - 7, 0)]:
        for i in range(-1, 8):
            for j in range(-1, 8):
                r, c = r0 + i, c0 + j
                if 0 <= r < n and 0 <= c < n:
                    used[r, c] = True
                    if 0 <= i <= 6 and 0 <= j <= 6:
                        ring = i in (0, 6) or j in (0, 6)
                        core = 2 <= i <= 4 and 2 <= j <= 4
                        m[r, c] = int(ring or core)
    for k in range(8, n - 8):
        m[6, k] = m[k, 6] = int(k % 2 == 0)
        used[6, k] = used[k, 6] = True
    a = n - 7
    for i in range(-2, 3):
        for j in range(-2, 3):
            used[a + i, a + j] = True
            m[a + i, a + j] = int(max(abs(i), abs(j)) != 1)
    bits = np.unpackbits(np.frombuffer((text * 8).encode(), dtype=np.uint8))
    k = 0
    for i in range(n):
        for j in range(n):
            if not used[i, j]:
                m[i, j] = bits[k] ^ int((i * j) % 3 == 0)
                k += 1
    return m


# ---------------- figure ----------------
fig = plt.figure(figsize=(15, 7.5), dpi=300)

fig.text(0.5, 1 - 110 / 2250, title, ha='center', va='baseline', fontsize=20)
fig.text(234 / 4500, 1 - 366 / 2250, now_temp, fontsize=25, va='baseline')
fig.text(1286 / 4500, 1 - 318 / 2250, high_low[0], fontsize=12, va='baseline')
fig.text(1286 / 4500, 1 - 385 / 2250, high_low[1], fontsize=12, va='baseline')
for i, line in enumerate(info_lines):
    fig.text(231 / 4500, 1 - (484 + 83 * i) / 2250, line, fontsize=18, va='baseline')

fig.text(0.9098, 1 - 193 / 2250, 'Data\nAccess', ha='center', va='center', fontsize=10, linespacing=1.1)

xfmt = mdates.DateFormatter('%H:%M\n%m/%d')
t_lo, t_hi = start, start + dt.timedelta(hours=6)
tpad = 3.6


def style_time_axis(ax):
    ax.set_xlim(t_lo, t_hi)
    ax.xaxis.set_major_locator(mdates.HourLocator())
    ax.xaxis.set_major_formatter(xfmt)
    ax.grid(True)
    ax.tick_params(labelsize=12)


# sea-level pressure
ax_p = fig.add_axes([0.0702, 0.2716, 0.3907, 0.1659])
tp, vp = split(press)
ax_p.plot(tp, vp, color='black', lw=1.2)
style_time_axis(ax_p)
ax_p.set_ylim(1021.72, 1023.74)
ax_p.set_yticks(np.arange(1021.9, 1023.75, 0.3))
ax_p.yaxis.set_major_formatter(FormatStrFormatter('%.1f'))
ax_p.set_ylabel('hPa', fontsize=12)
ax_p.set_title('Sea-level pressure', fontsize=15, y=1.0, pad=tpad)
plt.setp(ax_p.get_xticklabels(), visible=False)

# wind
ax_w = fig.add_axes([0.0702, 0.0649, 0.3907, 0.1653])
tg, vg = split(gust_kph)
ax_w.plot(tg, vg, 'o', color='cyan', alpha=0.5, ms=4, mew=1.2, ls='none')
tw, vw = split(wind_kph)
ax_w.plot(tw, vw, color='magenta', lw=1.2)
bt = mdates.date2num(to_time(barb_min))
bd = np.deg2rad(barb_dir)
bs = np.array(barb_spd, dtype=float)
ax_w.barbs(bt, np.full(len(bt), 5.0), -bs * np.sin(bd), -bs * np.cos(bd), color='black', lw=1.0, zorder=5)
style_time_axis(ax_w)
ax_w.set_ylim(0, 11.6)
ax_w.set_yticks(range(0, 11, 2))
ax_w.set_ylabel('kph', fontsize=12)
ax_w.set_title('Wind Spd (line), Gusts (dots), and Barbs', fontsize=15, y=1.0, pad=tpad)
ax_w2 = ax_w.twinx()
ax_w2.set_ylim(0, 11.6 / 1.609)
ax_w2.set_yticks(range(0, 8))
ax_w2.tick_params(labelsize=12)
ax_w2.set_ylabel('mph', fontsize=12)

# temperatures
ax_t = fig.add_axes([0.5589, 0.2716, 0.3913, 0.1659])
ta, va = split(air_c)
tb, vb = split(wetbulb_c)
td, vd = split(dewpoint_c)
ax_t.plot(ta, va, color='red', lw=1.2)
ax_t.plot(tb, vb, color='black', lw=1.2)
ax_t.plot(td, vd, color='green', lw=1.2)
ax_t.axhline(0, color='blue', ls=':', lw=1.5)
style_time_axis(ax_t)
ax_t.set_xticks(to_time(range(50, 360, 50)), minor=True)
ax_t.set_ylim(-0.76, 2.08)
ax_t.set_yticks(np.arange(-0.4, 2.01, 0.4))
ax_t.yaxis.set_major_formatter(FormatStrFormatter('%.1f'))
ax_t.set_ylabel(deg + 'C', fontsize=12)
ax_t.set_title('Air (Red), Wet Bulb (Blk) and Dewpoint (Grn) Temps', fontsize=15, y=1.0, pad=tpad)
plt.setp(ax_t.get_xticklabels(), visible=False)
ax_t2 = ax_t.twinx()
ax_t2.set_ylim(-0.76 * 1.8 + 32, 2.08 * 1.8 + 32)
ax_t2.set_yticks(np.arange(31.0, 35.6, 0.5))
ax_t2.yaxis.set_major_formatter(FormatStrFormatter('%.1f'))
ax_t2.tick_params(labelsize=12)
ax_t2.set_ylabel(deg + 'F', fontsize=12)

# solar
ax_s = fig.add_axes([0.5589, 0.0649, 0.3913, 0.1653])
ts, vs = split(solar_wm2)
ax_s.plot(ts, vs, color='goldenrod', lw=1.3)
style_time_axis(ax_s)
ax_s.set_ylim(0, 277)
ax_s.set_yticks(range(0, 251, 50))
ax_s.set_ylabel('W/m$^2$', fontsize=12)
ax_s.set_title('Solar Irradiance', fontsize=15, y=1.0, pad=tpad)

# wind rose
ax_r = fig.add_axes([0.5618, 0.6053, 0.1222, 0.2444], projection='polar')
ax_r.set_theta_zero_location('N')
ax_r.set_theta_direction(-1)
theta = np.deg2rad(np.arange(len(rose_dirs)) * 22.5)
width = np.deg2rad(22.5) * 0.95
b0 = np.array(rose_0_5)
b1 = np.array(rose_5_10)
m0 = b0 > 0
m1 = b1 > 0
ax_r.bar(theta[m1], b1[m1], width=width, bottom=b0[m1], color=rose_colors[1], edgecolor='white', lw=1.0, zorder=1)
ax_r.bar(theta[m0], b0[m0], width=width, bottom=0, color=rose_colors[0], edgecolor='white', lw=1.0, zorder=1.2)
ax_r.set_ylim(0, rose_rmax)
rr = np.linspace(0, rose_rmax, 5)[1:]
ax_r.set_rgrids(rr, labels=['%d%%' % r for r in rr], angle=22.5, fontsize=10)
ax_r.set_thetagrids(range(0, 360, 45), labels=['N', 'N-E', 'E', 'S-E', 'S', 'S-W', 'W', 'N-W'], fontsize=12)
ax_r.tick_params(axis='x', pad=3.5)
ax_r.grid(True, color='#b0b0b0', lw=0.8)
ax_r.set_title('24-hr Wind Rose (kph)', fontsize=15, y=1.0, pad=15.7)
handles = [Patch(facecolor=c, edgecolor='black', lw=0.8) for c in rose_colors]
fig.legend(handles, rose_bins, loc='upper left', bbox_to_anchor=(2380 / 4500, 1 - 917 / 2250), ncol=2,
           fontsize=7.5, frameon=False, handlelength=3.22, handleheight=1.25, handletextpad=1.26,
           labelspacing=1.15, columnspacing=2.63, borderpad=0, borderaxespad=0)

# precipitation
ax_pr = fig.add_axes([0.7844, 0.5471, 0.128, 0.3027])
xp = np.arange(len(precip_cats))
ax_pr.bar(xp, precip_mm, color='tab:blue')
for x, v in zip(xp, precip_mm):
    ax_pr.text(x, v, '%.2f' % v, ha='center', va='bottom', fontsize=12)
ax_pr.set_xlim(-0.5, 2.5)
ax_pr.set_ylim(0, 1.1)
ax_pr.set_xticks(xp)
ax_pr.set_xticklabels(precip_cats)
ax_pr.set_yticks(np.arange(0, 1.01, 0.2))
ax_pr.yaxis.set_major_formatter(FormatStrFormatter('%.1f'))
ax_pr.tick_params(labelsize=12)
ax_pr.grid(True)
ax_pr.set_ylabel('Total (mm) or Rate (mm/hr)', fontsize=12)
ax_pr.set_title('Precipitation', fontsize=15, y=1.0, pad=tpad)
ax_pr2 = ax_pr.twinx()
ax_pr2.set_ylim(0, 1.1 / 25.4)
ax_pr2.set_yticks(np.arange(0, 0.041, 0.01))
ax_pr2.yaxis.set_major_formatter(FormatStrFormatter('%.2f'))
ax_pr2.tick_params(labelsize=12)
ax_pr2.set_ylabel('Total (in) or Rate (in/hr)', fontsize=12)

# QR code
ax_qr = fig.add_axes([0.9298, 0.8658, 0.06, 0.1196])
ax_qr.imshow(qr_matrix('https://science.gsfc.nasa.gov/weather/B33/data-access'),
             cmap=ListedColormap(['white', '#3535ff']), interpolation='nearest')
ax_qr.axis('off')

fig.savefig('out.png', dpi=300)
